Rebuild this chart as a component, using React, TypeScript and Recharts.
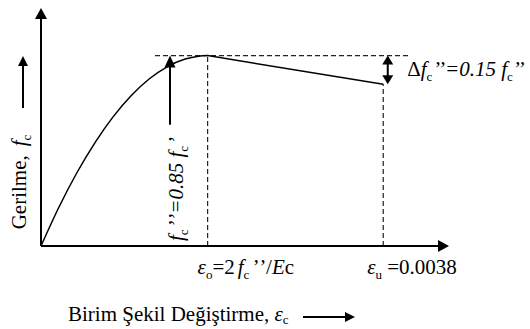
import { LineChart, Line, XAxis, YAxis, ReferenceLine, ReferenceDot } from 'recharts'

const W = 530
const H = 329
const FONT = "'Liberation Serif', 'Times New Roman', serif"
const FS = 21
const SUB = 13

// strain at peak stress and at crushing
const EPS_0 = 0.00185
const EPS_U = 0.0038
const X_MAX = 0.00453
const Y_MAX = 1.25

// rising branch: strain vs. stress as a fraction of f''c
const RISE_STRAIN = [0, 0.0002, 0.0004, 0.0006, 0.0008, 0.001, 0.0012, 0.0014, 0.0016, 0.00175, 0.00185]
const RISE_STRESS = [0, 0.205, 0.386, 0.543, 0.678, 0.789, 0.877, 0.941, 0.982, 0.997, 1]

// descending branch
const FALL_STRAIN = [EPS_0, EPS_U]
const FALL_STRESS = [1, 0.85]

// dashed guide from the peak level, double arrow for the 0.15 drop, arrow to the peak
const PEAK_GUIDE = [0.001266, 0.004097]
const DROP_ARROW_X = 0.00385
const PEAK_ARROW_X = 0.001432
const PEAK_ARROW_FROM = 0.637

const rise = RISE_STRAIN.map((s, i) => ({ strain: s, stress: RISE_STRESS[i] }))
const fall = FALL_STRAIN.map((s, i) => ({ strain: s, stress: FALL_STRESS[i] }))

const DASH = '5 3'
const textStyle = { fontFamily: FONT, fontSize: FS, fill: '#000' }

type ArrowOpts = { head?: number; half?: number; sw?: number; both?: boolean }

// line with filled triangular head(s), used as a ReferenceLine shape
function arrowShape({ head = 10, half = 5.5, sw = 2, both = false }: ArrowOpts) {
  return (p: any) => {
    const x1 = Number(p.x1), y1 = Number(p.y1), x2 = Number(p.x2), y2 = Number(p.y2)
    return <g>{drawArrow(x1, y1, x2, y2, head, half, sw, both)}</g>
  }
}

function drawArrow(x1: number, y1: number, x2: number, y2: number, head = 10, half = 5.5, sw = 2, both = false) {
  const len = Math.hypot(x2 - x1, y2 - y1) || 1
  const ux = (x2 - x1) / len
  const uy = (y2 - y1) / len
  const tri = (tx: number, ty: number, dx: number, dy: number) => {
    const bx = tx - dx * head
    const by = ty - dy * head
    return `${tx},${ty} ${bx - dy * half},${by + dx * half} ${bx + dy * half},${by - dx * half}`
  }
  const sx = both ? x1 + ux * head * 0.8 : x1
  const sy = both ? y1 + uy * head * 0.8 : y1
  return (
    <>
      <line x1={sx} y1={sy} x2={x2 - ux * head * 0.8} y2={y2 - uy * head * 0.8} stroke="#000" strokeWidth={sw} />
      <polygon points={tri(x2, y2, ux, uy)} fill="#000" />
      {both && <polygon points={tri(x1, y1, -ux, -uy)} fill="#000" />}
    </>
  )
}

const sub = (t: string) => (
  <tspan fontSize={SUB} dy={5} fontStyle="normal">{t}</tspan>
)

// spaced primes as set in the labels
const primes = (n: number, first: number, gap = 2) => (
  <>
    <tspan dy={first} dx={gap} fontStyle="italic">’</tspan>
    {n > 1 && <tspan dx={gap} fontStyle="italic">’</tspan>}
  </>
)

function YTitle(p: any) {
  const { cx, cy } = p
  return (
    <g>
      <text transform={`translate(${cx - 15},${cy - 64}) rotate(-90)`} textAnchor="middle" style={textStyle}>
        Gerilme,<tspan dx={9} fontStyle="italic">f</tspan>
        {sub('c')}
      </text>
      {drawArrow(cx - 18, cy - 138, cx - 18, cy - 190, 10, 5, 2)}
    </g>
  )
}

function XTitle(p: any) {
  const { cx, cy } = p
  return (
    <g>
      <text x={cx + 27} y={cy + 75} style={textStyle}>
        Birim Şekil Değiştirme, <tspan fontStyle="italic">ε</tspan>
        <tspan fontSize={SUB} dy={3}>c</tspan>
      </text>
      {drawArrow(cx + 262, cy + 71, cx + 314, cy + 71, 10, 5, 2)}
    </g>
  )
}

function Eps0Label(p: any) {
  const { cx, cy } = p
  return (
    <text x={cx - 10} y={cy + 28} style={textStyle}>
      <tspan fontStyle="italic">ε</tspan>
      {sub('o')}
      <tspan dy={-5}>=2</tspan>
      <tspan fontStyle="italic" dx={3}>f</tspan>
      {sub('c')}
      {primes(2, -5)}
      <tspan dx={1}>/</tspan>
      <tspan fontStyle="italic">E</tspan>
      <tspan>c</tspan>
    </text>
  )
}

function EpsULabel(p: any) {
  const { cx, cy } = p
  return (
    <text x={cx - 16} y={cy + 28} style={textStyle}>
      <tspan fontStyle="italic">ε</tspan>
      {sub('u')}
      <tspan dy={-5}> =0.0038</tspan>
    </text>
  )
}

function DropLabel(p: any) {
  const { cx, cy } = p
  return (
    <text x={cx + 24} y={cy - 8} style={textStyle}>
      <tspan>Δ</tspan>
      <tspan fontStyle="italic">f</tspan>
      {sub('c')}
      {primes(2, -5, 0.5)}
      <tspan fontStyle="italic">=0.15 f</tspan>
      {sub('c')}
      {primes(2, -5, 0)}
    </text>
  )
}

function PeakLabel(p: any) {
  const { cx, cy } = p
  return (
    <text transform={`translate(${cx + 13},${cy - 57}) rotate(-90)`} textAnchor="middle" style={textStyle}>
      <tspan fontStyle="italic">f</tspan>
      {sub('c')}
      {primes(2, -5)}
      <tspan fontStyle="italic">=0.85 f</tspan>
      {sub('c')}
      {primes(1, -5)}
    </text>
  )
}

export default function App() {
  return (
    <div style={{ position: 'absolute', left: 0, top: 0, width: W, height: H, background: '#fff' }}>
      <LineChart width={W} height={H} margin={{ top: 8, right: 81, bottom: 83, left: 41 }}>
        <XAxis dataKey="strain" type="number" domain={[0, X_MAX]} hide allowDataOverflow />
        <YAxis type="number" domain={[0, Y_MAX]} hide allowDataOverflow />

        {/* guides */}
        <ReferenceLine
          segment={[{ x: PEAK_GUIDE[0], y: 1 }, { x: PEAK_GUIDE[1], y: 1 }]}
          stroke="#222"
          strokeWidth={1.2}
          strokeDasharray={DASH}
        />
        <ReferenceLine
          segment={[{ x: EPS_0, y: 0 }, { x: EPS_0, y: 1 }]}
          stroke="#222"
          strokeWidth={1.2}
          strokeDasharray={DASH}
        />
        <ReferenceLine
          segment={[{ x: EPS_U, y: 0 }, { x: EPS_U, y: 0.85 }]}
          stroke="#222"
          strokeWidth={1.2}
          strokeDasharray={DASH}
        />

        {/* axes */}
        <ReferenceLine segment={[{ x: 0, y: 0 }, { x: X_MAX, y: 0 }]} shape={arrowShape({ head: 11, half: 6, sw: 2 })} />
        <ReferenceLine segment={[{ x: 0, y: 0 }, { x: 0, y: Y_MAX }]} shape={arrowShape({ head: 11, half: 6, sw: 2 })} />

        {/* annotation arrows */}
        <ReferenceLine
          segment={[{ x: DROP_ARROW_X, y: 1 }, { x: DROP_ARROW_X, y: 0.85 }]}
          shape={arrowShape({ head: 9, half: 5.5, sw: 2, both: true })}
        />
        <ReferenceLine
          segment={[{ x: PEAK_ARROW_X, y: PEAK_ARROW_FROM }, { x: PEAK_ARROW_X, y: 1 }]}
          shape={arrowShape({ head: 12, half: 5.5, sw: 2 })}
        />

        <Line data={rise} dataKey="stress" type="monotone" stroke="#000" strokeWidth={1.5} dot={false} isAnimationActive={false} />
        <Line data={fall} dataKey="stress" type="linear" stroke="#000" strokeWidth={1.5} dot={false} isAnimationActive={false} />

        {/* labels */}
        <ReferenceDot x={0} y={0} r={0} shape={YTitle} />
        <ReferenceDot x={0} y={0} r={0} shape={XTitle} />
        <ReferenceDot x={EPS_0} y={0} r={0} shape={Eps0Label} />
        <ReferenceDot x={EPS_U} y={0} r={0} shape={EpsULabel} />
        <ReferenceDot x={EPS_U} y={0.85} r={0} shape={DropLabel} />
        <ReferenceDot x={PEAK_ARROW_X} y={0} r={0} shape={PeakLabel} />
      </LineChart>
    </div>
  )
}
